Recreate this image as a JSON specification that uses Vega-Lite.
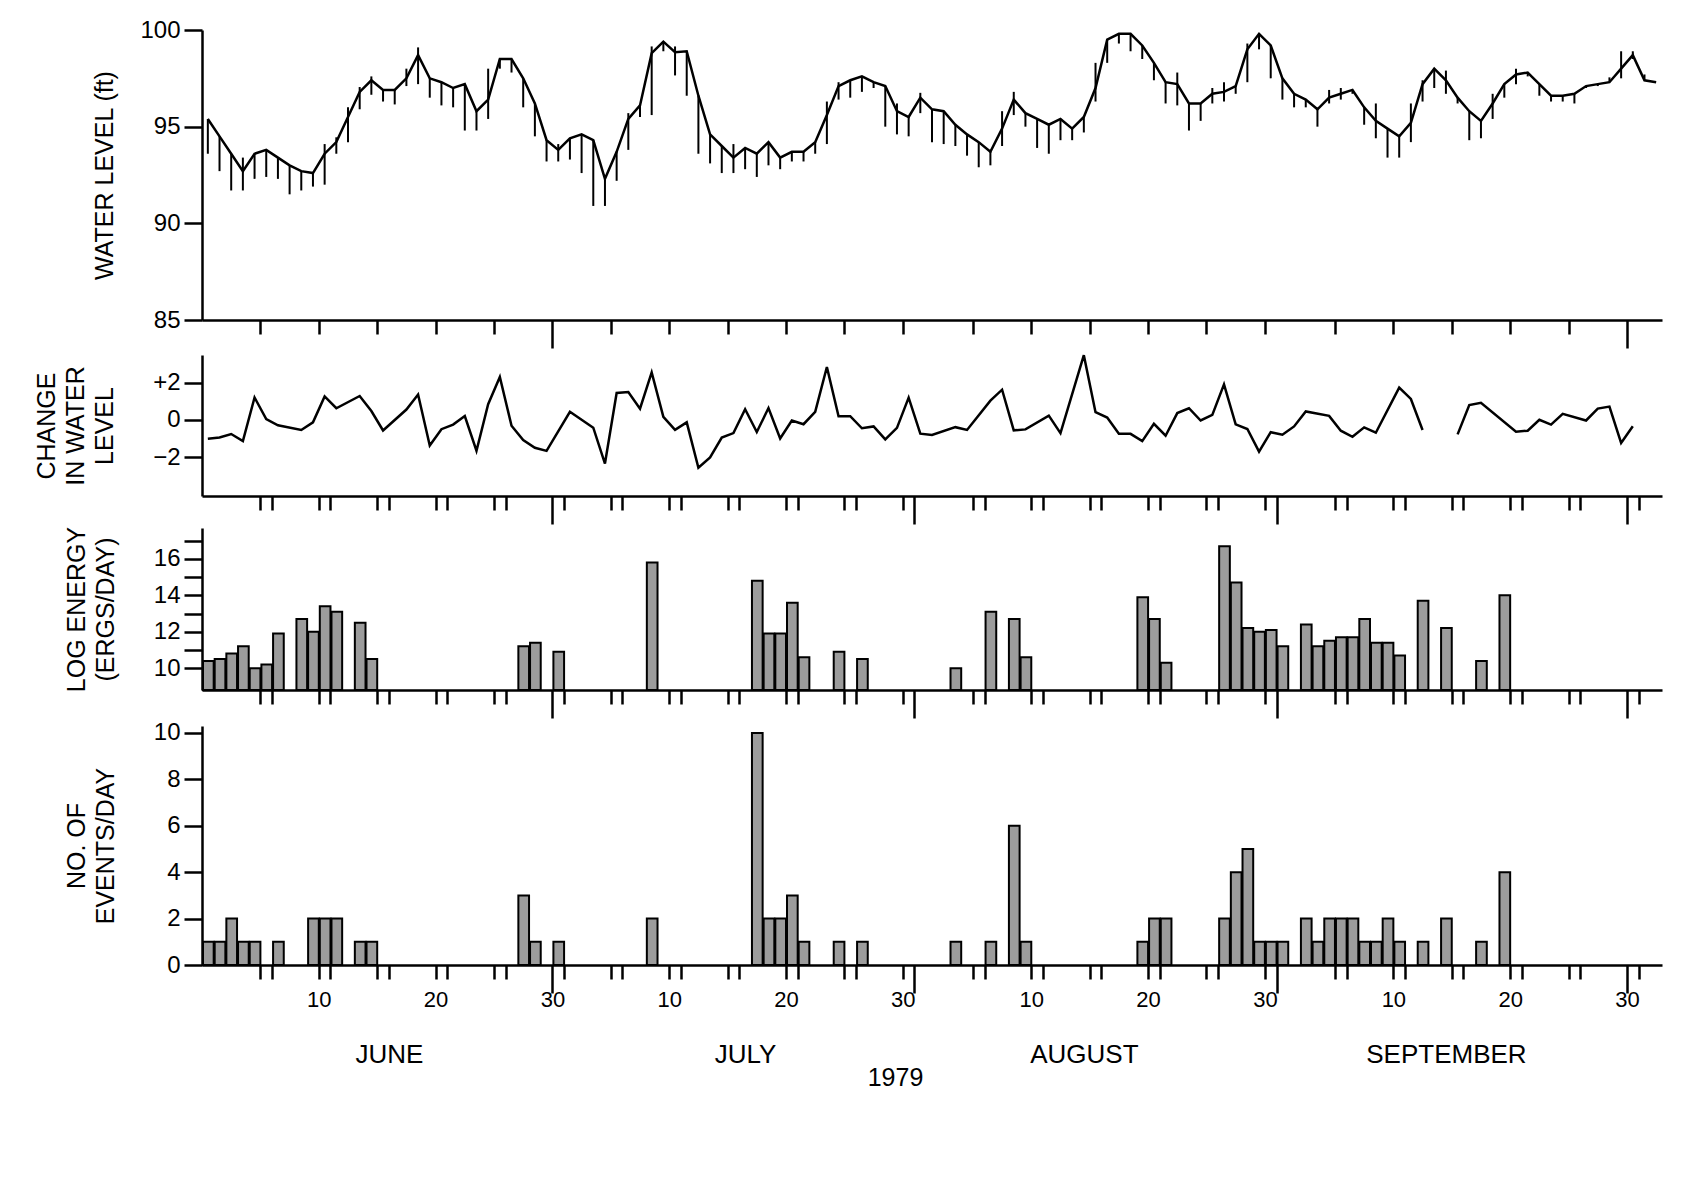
{
  "$schema": "https://vega.github.io/schema/vega-lite/v6.json",
  "background": "white",
  "padding": {"left": 34, "top": 18, "right": 10, "bottom": 10},
  "spacing": 0,
  "config": {
    "font": "Liberation Sans",
    "view": {"stroke": null},
    "axis": {
      "domainColor": "black", "domainWidth": 2.5, "tickColor": "black", "tickWidth": 2.5,
      "labelColor": "black", "titleColor": "black", "labelFont": "Liberation Sans", "titleFont": "Liberation Sans",
      "labelFontSize": 24, "titleFontSize": 25, "titleFontWeight": "normal", "grid": false, "titleLineHeight": 29
    },
    "axisY": {"tickSize": 18, "labelPadding": 4, "titlePadding": 35}
  },
  "datasets": {
    "water": [
      {"date": "1979-06-01", "level": 95.4, "hi": 95.4, "lo": 93.6},
      {"date": "1979-06-02", "level": 94.5, "hi": 94.5, "lo": 92.7},
      {"date": "1979-06-03", "level": 93.6, "hi": 93.6, "lo": 91.7},
      {"date": "1979-06-04", "level": 92.7, "hi": 93.4, "lo": 91.7},
      {"date": "1979-06-05", "level": 93.6, "hi": 93.6, "lo": 92.3},
      {"date": "1979-06-06", "level": 93.8, "hi": 93.8, "lo": 92.4},
      {"date": "1979-06-07", "level": 93.4, "hi": 93.4, "lo": 92.3},
      {"date": "1979-06-08", "level": 93.0, "hi": 93.0, "lo": 91.5},
      {"date": "1979-06-09", "level": 92.7, "hi": 92.7, "lo": 91.7},
      {"date": "1979-06-10", "level": 92.6, "hi": 92.6, "lo": 91.9},
      {"date": "1979-06-11", "level": 93.6, "hi": 94.1, "lo": 92.0},
      {"date": "1979-06-12", "level": 94.2, "hi": 94.45, "lo": 93.6},
      {"date": "1979-06-13", "level": 95.5, "hi": 96.0, "lo": 94.2},
      {"date": "1979-06-14", "level": 96.8, "hi": 97.05, "lo": 95.9},
      {"date": "1979-06-15", "level": 97.4, "hi": 97.6, "lo": 96.65},
      {"date": "1979-06-16", "level": 96.9, "hi": 96.9, "lo": 96.3},
      {"date": "1979-06-17", "level": 96.9, "hi": 96.9, "lo": 96.15},
      {"date": "1979-06-18", "level": 97.5, "hi": 98.0, "lo": 97.1},
      {"date": "1979-06-19", "level": 98.7, "hi": 99.1, "lo": 97.2},
      {"date": "1979-06-20", "level": 97.5, "hi": 97.5, "lo": 96.5},
      {"date": "1979-06-21", "level": 97.3, "hi": 97.3, "lo": 96.1},
      {"date": "1979-06-22", "level": 97.0, "hi": 97.0, "lo": 96.0},
      {"date": "1979-06-23", "level": 97.2, "hi": 97.2, "lo": 94.8},
      {"date": "1979-06-24", "level": 95.8, "hi": 95.8, "lo": 94.8},
      {"date": "1979-06-25", "level": 96.4, "hi": 98.0, "lo": 95.4},
      {"date": "1979-06-26", "level": 98.5, "hi": 98.5, "lo": 98.0},
      {"date": "1979-06-27", "level": 98.5, "hi": 98.5, "lo": 97.8},
      {"date": "1979-06-28", "level": 97.5, "hi": 97.5, "lo": 96.0},
      {"date": "1979-06-29", "level": 96.2, "hi": 96.2, "lo": 94.5},
      {"date": "1979-06-30", "level": 94.3, "hi": 94.3, "lo": 93.2},
      {"date": "1979-07-01", "level": 93.8, "hi": 94.1, "lo": 93.2},
      {"date": "1979-07-02", "level": 94.4, "hi": 94.4, "lo": 93.3},
      {"date": "1979-07-03", "level": 94.6, "hi": 94.6, "lo": 92.6},
      {"date": "1979-07-04", "level": 94.3, "hi": 94.3, "lo": 90.9},
      {"date": "1979-07-05", "level": 92.3, "hi": 92.3, "lo": 90.9},
      {"date": "1979-07-06", "level": 93.7, "hi": 93.7, "lo": 92.2},
      {"date": "1979-07-07", "level": 95.4, "hi": 95.7, "lo": 93.8},
      {"date": "1979-07-08", "level": 96.1, "hi": 96.1, "lo": 95.5},
      {"date": "1979-07-09", "level": 98.8, "hi": 99.15, "lo": 95.6},
      {"date": "1979-07-10", "level": 99.4, "hi": 99.4, "lo": 98.9},
      {"date": "1979-07-11", "level": 98.85, "hi": 99.15, "lo": 97.65},
      {"date": "1979-07-12", "level": 98.9, "hi": 98.9, "lo": 96.6},
      {"date": "1979-07-13", "level": 96.6, "hi": 96.6, "lo": 93.6},
      {"date": "1979-07-14", "level": 94.6, "hi": 94.6, "lo": 93.1},
      {"date": "1979-07-15", "level": 94.0, "hi": 94.0, "lo": 92.6},
      {"date": "1979-07-16", "level": 93.4, "hi": 94.1, "lo": 92.6},
      {"date": "1979-07-17", "level": 93.9, "hi": 93.9, "lo": 92.8},
      {"date": "1979-07-18", "level": 93.6, "hi": 93.6, "lo": 92.4},
      {"date": "1979-07-19", "level": 94.2, "hi": 94.2, "lo": 93.0},
      {"date": "1979-07-20", "level": 93.4, "hi": 93.4, "lo": 92.8},
      {"date": "1979-07-21", "level": 93.7, "hi": 93.7, "lo": 93.2},
      {"date": "1979-07-22", "level": 93.7, "hi": 93.7, "lo": 93.2},
      {"date": "1979-07-23", "level": 94.2, "hi": 94.2, "lo": 93.6},
      {"date": "1979-07-24", "level": 95.6, "hi": 96.3, "lo": 94.1},
      {"date": "1979-07-25", "level": 97.1, "hi": 97.3, "lo": 96.4},
      {"date": "1979-07-26", "level": 97.4, "hi": 97.4, "lo": 96.5},
      {"date": "1979-07-27", "level": 97.6, "hi": 97.6, "lo": 96.8},
      {"date": "1979-07-28", "level": 97.3, "hi": 97.3, "lo": 97.0},
      {"date": "1979-07-29", "level": 97.1, "hi": 97.1, "lo": 95.0},
      {"date": "1979-07-30", "level": 95.8, "hi": 96.2, "lo": 94.6},
      {"date": "1979-07-31", "level": 95.5, "hi": 95.5, "lo": 94.5},
      {"date": "1979-08-01", "level": 96.5, "hi": 96.75, "lo": 95.7},
      {"date": "1979-08-02", "level": 95.9, "hi": 95.9, "lo": 94.2},
      {"date": "1979-08-03", "level": 95.8, "hi": 95.8, "lo": 94.1},
      {"date": "1979-08-04", "level": 95.1, "hi": 95.1, "lo": 94.0},
      {"date": "1979-08-05", "level": 94.6, "hi": 94.6, "lo": 93.5},
      {"date": "1979-08-06", "level": 94.2, "hi": 94.2, "lo": 92.9},
      {"date": "1979-08-07", "level": 93.7, "hi": 93.7, "lo": 93.0},
      {"date": "1979-08-08", "level": 94.9, "hi": 95.8, "lo": 94.0},
      {"date": "1979-08-09", "level": 96.4, "hi": 96.8, "lo": 95.6},
      {"date": "1979-08-10", "level": 95.7, "hi": 95.7, "lo": 95.0},
      {"date": "1979-08-11", "level": 95.4, "hi": 95.4, "lo": 93.9},
      {"date": "1979-08-12", "level": 95.1, "hi": 95.1, "lo": 93.6},
      {"date": "1979-08-13", "level": 95.4, "hi": 95.4, "lo": 94.3},
      {"date": "1979-08-14", "level": 94.9, "hi": 94.9, "lo": 94.3},
      {"date": "1979-08-15", "level": 95.5, "hi": 95.5, "lo": 94.7},
      {"date": "1979-08-16", "level": 97.0, "hi": 98.3, "lo": 96.3},
      {"date": "1979-08-17", "level": 99.5, "hi": 99.5, "lo": 98.3},
      {"date": "1979-08-18", "level": 99.8, "hi": 99.8, "lo": 99.3},
      {"date": "1979-08-19", "level": 99.8, "hi": 99.8, "lo": 98.9},
      {"date": "1979-08-20", "level": 99.2, "hi": 99.2, "lo": 98.5},
      {"date": "1979-08-21", "level": 98.3, "hi": 98.3, "lo": 97.4},
      {"date": "1979-08-22", "level": 97.3, "hi": 97.3, "lo": 96.2},
      {"date": "1979-08-23", "level": 97.2, "hi": 97.8, "lo": 96.1},
      {"date": "1979-08-24", "level": 96.2, "hi": 96.2, "lo": 94.8},
      {"date": "1979-08-25", "level": 96.2, "hi": 96.2, "lo": 95.3},
      {"date": "1979-08-26", "level": 96.7, "hi": 97.0, "lo": 96.2},
      {"date": "1979-08-27", "level": 96.8, "hi": 97.3, "lo": 96.3},
      {"date": "1979-08-28", "level": 97.1, "hi": 97.1, "lo": 96.7},
      {"date": "1979-08-29", "level": 99.0, "hi": 99.3, "lo": 97.3},
      {"date": "1979-08-30", "level": 99.8, "hi": 99.8, "lo": 99.0},
      {"date": "1979-08-31", "level": 99.2, "hi": 99.2, "lo": 97.5},
      {"date": "1979-09-01", "level": 97.5, "hi": 97.5, "lo": 96.4},
      {"date": "1979-09-02", "level": 96.7, "hi": 96.7, "lo": 96.0},
      {"date": "1979-09-03", "level": 96.4, "hi": 96.4, "lo": 96.0},
      {"date": "1979-09-04", "level": 95.9, "hi": 95.9, "lo": 95.0},
      {"date": "1979-09-05", "level": 96.5, "hi": 96.9, "lo": 96.2},
      {"date": "1979-09-06", "level": 96.7, "hi": 97.0, "lo": 96.4},
      {"date": "1979-09-07", "level": 96.9, "hi": 96.9, "lo": 96.7},
      {"date": "1979-09-08", "level": 96.0, "hi": 96.0, "lo": 95.1},
      {"date": "1979-09-09", "level": 95.3, "hi": 96.2, "lo": 94.4},
      {"date": "1979-09-10", "level": 94.9, "hi": 94.9, "lo": 93.4},
      {"date": "1979-09-11", "level": 94.5, "hi": 94.5, "lo": 93.4},
      {"date": "1979-09-12", "level": 95.2, "hi": 96.2, "lo": 94.2},
      {"date": "1979-09-13", "level": 97.2, "hi": 97.4, "lo": 96.3},
      {"date": "1979-09-14", "level": 98.0, "hi": 98.0, "lo": 97.0},
      {"date": "1979-09-15", "level": 97.4, "hi": 97.9, "lo": 96.7},
      {"date": "1979-09-16", "level": 96.5, "hi": 96.5, "lo": 96.2},
      {"date": "1979-09-17", "level": 95.8, "hi": 95.8, "lo": 94.3},
      {"date": "1979-09-18", "level": 95.3, "hi": 95.3, "lo": 94.4},
      {"date": "1979-09-19", "level": 96.2, "hi": 96.7, "lo": 95.4},
      {"date": "1979-09-20", "level": 97.2, "hi": 97.2, "lo": 96.5},
      {"date": "1979-09-21", "level": 97.7, "hi": 98.0, "lo": 97.2},
      {"date": "1979-09-22", "level": 97.8, "hi": 97.8, "lo": 97.6},
      {"date": "1979-09-23", "level": 97.2, "hi": 97.2, "lo": 96.6},
      {"date": "1979-09-24", "level": 96.6, "hi": 96.6, "lo": 96.3},
      {"date": "1979-09-25", "level": 96.6, "hi": 96.6, "lo": 96.3},
      {"date": "1979-09-26", "level": 96.7, "hi": 96.7, "lo": 96.2},
      {"date": "1979-09-27", "level": 97.1, "hi": 97.1, "lo": 97.0},
      {"date": "1979-09-28", "level": 97.2, "hi": 97.2, "lo": 97.1},
      {"date": "1979-09-29", "level": 97.3, "hi": 97.55, "lo": 97.3},
      {"date": "1979-09-30", "level": 98.0, "hi": 98.9, "lo": 97.5},
      {"date": "1979-10-01", "level": 98.7, "hi": 98.9, "lo": 98.5},
      {"date": "1979-10-02", "level": 97.4, "hi": 97.7, "lo": 97.4},
      {"date": "1979-10-03", "level": 97.3, "hi": 97.3, "lo": 97.3}
    ],
    "change": [
      {"date": "1979-06-01", "change": -1.01, "part": 1},
      {"date": "1979-06-02", "change": -0.95, "part": 1},
      {"date": "1979-06-03", "change": -0.76, "part": 1},
      {"date": "1979-06-04", "change": -1.14, "part": 1},
      {"date": "1979-06-05", "change": 1.21, "part": 1},
      {"date": "1979-06-06", "change": 0.05, "part": 1},
      {"date": "1979-06-07", "change": -0.29, "part": 1},
      {"date": "1979-06-09", "change": -0.54, "part": 1},
      {"date": "1979-06-10", "change": -0.13, "part": 1},
      {"date": "1979-06-11", "change": 1.27, "part": 1},
      {"date": "1979-06-12", "change": 0.63, "part": 1},
      {"date": "1979-06-14", "change": 1.29, "part": 1},
      {"date": "1979-06-15", "change": 0.48, "part": 1},
      {"date": "1979-06-16", "change": -0.57, "part": 1},
      {"date": "1979-06-18", "change": 0.56, "part": 1},
      {"date": "1979-06-19", "change": 1.37, "part": 1},
      {"date": "1979-06-20", "change": -1.38, "part": 1},
      {"date": "1979-06-21", "change": -0.5, "part": 1},
      {"date": "1979-06-22", "change": -0.25, "part": 1},
      {"date": "1979-06-23", "change": 0.21, "part": 1},
      {"date": "1979-06-24", "change": -1.66, "part": 1},
      {"date": "1979-06-25", "change": 0.85, "part": 1},
      {"date": "1979-06-26", "change": 2.32, "part": 1},
      {"date": "1979-06-27", "change": -0.31, "part": 1},
      {"date": "1979-06-28", "change": -1.08, "part": 1},
      {"date": "1979-06-29", "change": -1.5, "part": 1},
      {"date": "1979-06-30", "change": -1.67, "part": 1},
      {"date": "1979-07-02", "change": 0.44, "part": 1},
      {"date": "1979-07-04", "change": -0.42, "part": 1},
      {"date": "1979-07-05", "change": -2.35, "part": 1},
      {"date": "1979-07-06", "change": 1.45, "part": 1},
      {"date": "1979-07-07", "change": 1.5, "part": 1},
      {"date": "1979-07-08", "change": 0.61, "part": 1},
      {"date": "1979-07-09", "change": 2.56, "part": 1},
      {"date": "1979-07-10", "change": 0.17, "part": 1},
      {"date": "1979-07-11", "change": -0.53, "part": 1},
      {"date": "1979-07-12", "change": -0.13, "part": 1},
      {"date": "1979-07-13", "change": -2.58, "part": 1},
      {"date": "1979-07-14", "change": -2.02, "part": 1},
      {"date": "1979-07-15", "change": -0.95, "part": 1},
      {"date": "1979-07-16", "change": -0.71, "part": 1},
      {"date": "1979-07-17", "change": 0.58, "part": 1},
      {"date": "1979-07-18", "change": -0.65, "part": 1},
      {"date": "1979-07-19", "change": 0.64, "part": 1},
      {"date": "1979-07-20", "change": -1.0, "part": 1},
      {"date": "1979-07-21", "change": -0.03, "part": 1},
      {"date": "1979-07-22", "change": -0.23, "part": 1},
      {"date": "1979-07-23", "change": 0.44, "part": 1},
      {"date": "1979-07-24", "change": 2.85, "part": 1},
      {"date": "1979-07-25", "change": 0.2, "part": 1},
      {"date": "1979-07-26", "change": 0.2, "part": 1},
      {"date": "1979-07-27", "change": -0.45, "part": 1},
      {"date": "1979-07-28", "change": -0.35, "part": 1},
      {"date": "1979-07-29", "change": -1.05, "part": 1},
      {"date": "1979-07-30", "change": -0.43, "part": 1},
      {"date": "1979-07-31", "change": 1.2, "part": 1},
      {"date": "1979-08-01", "change": -0.74, "part": 1},
      {"date": "1979-08-02", "change": -0.81, "part": 1},
      {"date": "1979-08-04", "change": -0.39, "part": 1},
      {"date": "1979-08-05", "change": -0.54, "part": 1},
      {"date": "1979-08-07", "change": 1.04, "part": 1},
      {"date": "1979-08-08", "change": 1.63, "part": 1},
      {"date": "1979-08-09", "change": -0.56, "part": 1},
      {"date": "1979-08-10", "change": -0.51, "part": 1},
      {"date": "1979-08-12", "change": 0.23, "part": 1},
      {"date": "1979-08-13", "change": -0.71, "part": 1},
      {"date": "1979-08-15", "change": 3.49, "part": 1},
      {"date": "1979-08-16", "change": 0.42, "part": 1},
      {"date": "1979-08-17", "change": 0.13, "part": 1},
      {"date": "1979-08-18", "change": -0.74, "part": 1},
      {"date": "1979-08-19", "change": -0.75, "part": 1},
      {"date": "1979-08-20", "change": -1.14, "part": 1},
      {"date": "1979-08-21", "change": -0.21, "part": 1},
      {"date": "1979-08-22", "change": -0.85, "part": 1},
      {"date": "1979-08-23", "change": 0.37, "part": 1},
      {"date": "1979-08-24", "change": 0.63, "part": 1},
      {"date": "1979-08-25", "change": -0.03, "part": 1},
      {"date": "1979-08-26", "change": 0.27, "part": 1},
      {"date": "1979-08-27", "change": 1.92, "part": 1},
      {"date": "1979-08-28", "change": -0.24, "part": 1},
      {"date": "1979-08-29", "change": -0.49, "part": 1},
      {"date": "1979-08-30", "change": -1.71, "part": 1},
      {"date": "1979-08-31", "change": -0.66, "part": 1},
      {"date": "1979-09-01", "change": -0.8, "part": 1},
      {"date": "1979-09-02", "change": -0.35, "part": 1},
      {"date": "1979-09-03", "change": 0.46, "part": 1},
      {"date": "1979-09-05", "change": 0.22, "part": 1},
      {"date": "1979-09-06", "change": -0.58, "part": 1},
      {"date": "1979-09-07", "change": -0.91, "part": 1},
      {"date": "1979-09-08", "change": -0.4, "part": 1},
      {"date": "1979-09-09", "change": -0.69, "part": 1},
      {"date": "1979-09-11", "change": 1.74, "part": 1},
      {"date": "1979-09-12", "change": 1.13, "part": 1},
      {"date": "1979-09-13", "change": -0.54, "part": 1},
      {"date": "1979-09-16", "change": -0.78, "part": 2},
      {"date": "1979-09-17", "change": 0.8, "part": 2},
      {"date": "1979-09-18", "change": 0.92, "part": 2},
      {"date": "1979-09-21", "change": -0.64, "part": 2},
      {"date": "1979-09-22", "change": -0.58, "part": 2},
      {"date": "1979-09-23", "change": 0.01, "part": 2},
      {"date": "1979-09-24", "change": -0.25, "part": 2},
      {"date": "1979-09-25", "change": 0.33, "part": 2},
      {"date": "1979-09-27", "change": -0.03, "part": 2},
      {"date": "1979-09-28", "change": 0.61, "part": 2},
      {"date": "1979-09-29", "change": 0.72, "part": 2},
      {"date": "1979-09-30", "change": -1.24, "part": 2},
      {"date": "1979-10-01", "change": -0.34, "part": 2}
    ],
    "energy": [
      {"date": "1979-06-01", "energy": 10.4},
      {"date": "1979-06-02", "energy": 10.5},
      {"date": "1979-06-03", "energy": 10.8},
      {"date": "1979-06-04", "energy": 11.2},
      {"date": "1979-06-05", "energy": 10.0},
      {"date": "1979-06-06", "energy": 10.2},
      {"date": "1979-06-07", "energy": 11.9},
      {"date": "1979-06-09", "energy": 12.7},
      {"date": "1979-06-10", "energy": 12.0},
      {"date": "1979-06-11", "energy": 13.4},
      {"date": "1979-06-12", "energy": 13.1},
      {"date": "1979-06-14", "energy": 12.5},
      {"date": "1979-06-15", "energy": 10.5},
      {"date": "1979-06-28", "energy": 11.2},
      {"date": "1979-06-29", "energy": 11.4},
      {"date": "1979-07-01", "energy": 10.9},
      {"date": "1979-07-09", "energy": 15.8},
      {"date": "1979-07-18", "energy": 14.8},
      {"date": "1979-07-19", "energy": 11.9},
      {"date": "1979-07-20", "energy": 11.9},
      {"date": "1979-07-21", "energy": 13.6},
      {"date": "1979-07-22", "energy": 10.6},
      {"date": "1979-07-25", "energy": 10.9},
      {"date": "1979-07-27", "energy": 10.5},
      {"date": "1979-08-04", "energy": 10.0},
      {"date": "1979-08-07", "energy": 13.1},
      {"date": "1979-08-09", "energy": 12.7},
      {"date": "1979-08-10", "energy": 10.6},
      {"date": "1979-08-20", "energy": 13.9},
      {"date": "1979-08-21", "energy": 12.7},
      {"date": "1979-08-22", "energy": 10.3},
      {"date": "1979-08-27", "energy": 16.7},
      {"date": "1979-08-28", "energy": 14.7},
      {"date": "1979-08-29", "energy": 12.2},
      {"date": "1979-08-30", "energy": 12.0},
      {"date": "1979-08-31", "energy": 12.1},
      {"date": "1979-09-01", "energy": 11.2},
      {"date": "1979-09-03", "energy": 12.4},
      {"date": "1979-09-04", "energy": 11.2},
      {"date": "1979-09-05", "energy": 11.5},
      {"date": "1979-09-06", "energy": 11.7},
      {"date": "1979-09-07", "energy": 11.7},
      {"date": "1979-09-08", "energy": 12.7},
      {"date": "1979-09-09", "energy": 11.4},
      {"date": "1979-09-10", "energy": 11.4},
      {"date": "1979-09-11", "energy": 10.7},
      {"date": "1979-09-13", "energy": 13.7},
      {"date": "1979-09-15", "energy": 12.2},
      {"date": "1979-09-18", "energy": 10.4},
      {"date": "1979-09-20", "energy": 14.0}
    ],
    "events": [
      {"date": "1979-06-01", "count": 1},
      {"date": "1979-06-02", "count": 1},
      {"date": "1979-06-03", "count": 2},
      {"date": "1979-06-04", "count": 1},
      {"date": "1979-06-05", "count": 1},
      {"date": "1979-06-07", "count": 1},
      {"date": "1979-06-10", "count": 2},
      {"date": "1979-06-11", "count": 2},
      {"date": "1979-06-12", "count": 2},
      {"date": "1979-06-14", "count": 1},
      {"date": "1979-06-15", "count": 1},
      {"date": "1979-06-28", "count": 3},
      {"date": "1979-06-29", "count": 1},
      {"date": "1979-07-01", "count": 1},
      {"date": "1979-07-09", "count": 2},
      {"date": "1979-07-18", "count": 10},
      {"date": "1979-07-19", "count": 2},
      {"date": "1979-07-20", "count": 2},
      {"date": "1979-07-21", "count": 3},
      {"date": "1979-07-22", "count": 1},
      {"date": "1979-07-25", "count": 1},
      {"date": "1979-07-27", "count": 1},
      {"date": "1979-08-04", "count": 1},
      {"date": "1979-08-07", "count": 1},
      {"date": "1979-08-09", "count": 6},
      {"date": "1979-08-10", "count": 1},
      {"date": "1979-08-20", "count": 1},
      {"date": "1979-08-21", "count": 2},
      {"date": "1979-08-22", "count": 2},
      {"date": "1979-08-27", "count": 2},
      {"date": "1979-08-28", "count": 4},
      {"date": "1979-08-29", "count": 5},
      {"date": "1979-08-30", "count": 1},
      {"date": "1979-08-31", "count": 1},
      {"date": "1979-09-01", "count": 1},
      {"date": "1979-09-03", "count": 2},
      {"date": "1979-09-04", "count": 1},
      {"date": "1979-09-05", "count": 2},
      {"date": "1979-09-06", "count": 2},
      {"date": "1979-09-07", "count": 2},
      {"date": "1979-09-08", "count": 1},
      {"date": "1979-09-09", "count": 1},
      {"date": "1979-09-10", "count": 2},
      {"date": "1979-09-11", "count": 1},
      {"date": "1979-09-13", "count": 1},
      {"date": "1979-09-15", "count": 2},
      {"date": "1979-09-18", "count": 1},
      {"date": "1979-09-20", "count": 4}
    ]
  },
  "vconcat": [
    {
      "width": 1460, "height": 290,
      "data": {"name": "water"},
      "layer": [
        {
          "mark": {"type": "rule", "color": "black", "strokeWidth": 2},
          "encoding": {
            "x": {"field": "date", "type": "temporal", "timeUnit": "utcyearmonthdate", "bandPosition": 0.5,
              "scale": {"type": "utc", "domain": [{"year": 1979, "month": 6, "date": 1, "utc": true}, {"year": 1979, "month": 10, "date": 4, "utc": true}]},
              "axis": {"title": null, "labels": false,
                "tickSize": {"condition": {"test": "utcdate(datum.value) == 1", "value": 28}, "value": 14},
                "values": [
                  {"year":1979,"month":6,"date":6,"utc":true},{"year":1979,"month":6,"date":7,"utc":true},{"year":1979,"month":6,"date":11,"utc":true},{"year":1979,"month":6,"date":12,"utc":true},{"year":1979,"month":6,"date":16,"utc":true},{"year":1979,"month":6,"date":17,"utc":true},{"year":1979,"month":6,"date":21,"utc":true},{"year":1979,"month":6,"date":22,"utc":true},{"year":1979,"month":6,"date":26,"utc":true},{"year":1979,"month":6,"date":27,"utc":true},{"year":1979,"month":7,"date":1,"utc":true},{"year":1979,"month":7,"date":2,"utc":true},
                  {"year":1979,"month":7,"date":6,"utc":true},{"year":1979,"month":7,"date":7,"utc":true},{"year":1979,"month":7,"date":11,"utc":true},{"year":1979,"month":7,"date":12,"utc":true},{"year":1979,"month":7,"date":16,"utc":true},{"year":1979,"month":7,"date":17,"utc":true},{"year":1979,"month":7,"date":21,"utc":true},{"year":1979,"month":7,"date":22,"utc":true},{"year":1979,"month":7,"date":26,"utc":true},{"year":1979,"month":7,"date":27,"utc":true},{"year":1979,"month":7,"date":31,"utc":true},{"year":1979,"month":8,"date":1,"utc":true},
                  {"year":1979,"month":8,"date":6,"utc":true},{"year":1979,"month":8,"date":7,"utc":true},{"year":1979,"month":8,"date":11,"utc":true},{"year":1979,"month":8,"date":12,"utc":true},{"year":1979,"month":8,"date":16,"utc":true},{"year":1979,"month":8,"date":17,"utc":true},{"year":1979,"month":8,"date":21,"utc":true},{"year":1979,"month":8,"date":22,"utc":true},{"year":1979,"month":8,"date":26,"utc":true},{"year":1979,"month":8,"date":27,"utc":true},{"year":1979,"month":8,"date":31,"utc":true},{"year":1979,"month":9,"date":1,"utc":true},
                  {"year":1979,"month":9,"date":6,"utc":true},{"year":1979,"month":9,"date":7,"utc":true},{"year":1979,"month":9,"date":11,"utc":true},{"year":1979,"month":9,"date":12,"utc":true},{"year":1979,"month":9,"date":16,"utc":true},{"year":1979,"month":9,"date":17,"utc":true},{"year":1979,"month":9,"date":21,"utc":true},{"year":1979,"month":9,"date":22,"utc":true},{"year":1979,"month":9,"date":26,"utc":true},{"year":1979,"month":9,"date":27,"utc":true},{"year":1979,"month":10,"date":1,"utc":true},{"year":1979,"month":10,"date":2,"utc":true}
                ]}},
            "y": {"field": "lo", "type": "quantitative", "scale": {"domain": [85, 100], "nice": false, "zero": false},
              "axis": {"title": "WATER LEVEL (ft)", "values": [85, 90, 95, 100], "titlePadding": 22}},
            "y2": {"field": "hi"}
          }
        },
        {
          "mark": {"type": "line", "color": "black", "strokeWidth": 2.5},
          "encoding": {
            "x": {"field": "date", "type": "temporal", "timeUnit": "utcyearmonthdate", "bandPosition": 0.5,
              "scale": {"type": "utc", "domain": [{"year": 1979, "month": 6, "date": 1, "utc": true}, {"year": 1979, "month": 10, "date": 4, "utc": true}]}},
            "y": {"field": "level", "type": "quantitative", "scale": {"domain": [85, 100], "nice": false, "zero": false},
              "axis": {"title": "WATER LEVEL (ft)", "values": [85, 90, 95, 100], "titlePadding": 22}}
          }
        }
      ]
    },
    {
      "width": 1460, "height": 141,
      "data": {"name": "change"},
      "mark": {"type": "line", "color": "black", "strokeWidth": 2.5},
      "encoding": {
        "x": {"field": "date", "type": "temporal", "timeUnit": "utcyearmonthdate", "bandPosition": 0.5,
          "scale": {"type": "utc", "domain": [{"year": 1979, "month": 6, "date": 1, "utc": true}, {"year": 1979, "month": 10, "date": 4, "utc": true}]},
          "axis": {"title": null, "labels": false,
            "tickSize": {"condition": {"test": "utcdate(datum.value) == 1", "value": 28}, "value": 14},
            "values": [
              {"year":1979,"month":6,"date":6,"utc":true},{"year":1979,"month":6,"date":7,"utc":true},{"year":1979,"month":6,"date":11,"utc":true},{"year":1979,"month":6,"date":12,"utc":true},{"year":1979,"month":6,"date":16,"utc":true},{"year":1979,"month":6,"date":17,"utc":true},{"year":1979,"month":6,"date":21,"utc":true},{"year":1979,"month":6,"date":22,"utc":true},{"year":1979,"month":6,"date":26,"utc":true},{"year":1979,"month":6,"date":27,"utc":true},{"year":1979,"month":7,"date":1,"utc":true},{"year":1979,"month":7,"date":2,"utc":true},
              {"year":1979,"month":7,"date":6,"utc":true},{"year":1979,"month":7,"date":7,"utc":true},{"year":1979,"month":7,"date":11,"utc":true},{"year":1979,"month":7,"date":12,"utc":true},{"year":1979,"month":7,"date":16,"utc":true},{"year":1979,"month":7,"date":17,"utc":true},{"year":1979,"month":7,"date":21,"utc":true},{"year":1979,"month":7,"date":22,"utc":true},{"year":1979,"month":7,"date":26,"utc":true},{"year":1979,"month":7,"date":27,"utc":true},{"year":1979,"month":7,"date":31,"utc":true},{"year":1979,"month":8,"date":1,"utc":true},
              {"year":1979,"month":8,"date":6,"utc":true},{"year":1979,"month":8,"date":7,"utc":true},{"year":1979,"month":8,"date":11,"utc":true},{"year":1979,"month":8,"date":12,"utc":true},{"year":1979,"month":8,"date":16,"utc":true},{"year":1979,"month":8,"date":17,"utc":true},{"year":1979,"month":8,"date":21,"utc":true},{"year":1979,"month":8,"date":22,"utc":true},{"year":1979,"month":8,"date":26,"utc":true},{"year":1979,"month":8,"date":27,"utc":true},{"year":1979,"month":8,"date":31,"utc":true},{"year":1979,"month":9,"date":1,"utc":true},
              {"year":1979,"month":9,"date":6,"utc":true},{"year":1979,"month":9,"date":7,"utc":true},{"year":1979,"month":9,"date":11,"utc":true},{"year":1979,"month":9,"date":12,"utc":true},{"year":1979,"month":9,"date":16,"utc":true},{"year":1979,"month":9,"date":17,"utc":true},{"year":1979,"month":9,"date":21,"utc":true},{"year":1979,"month":9,"date":22,"utc":true},{"year":1979,"month":9,"date":26,"utc":true},{"year":1979,"month":9,"date":27,"utc":true},{"year":1979,"month":10,"date":1,"utc":true},{"year":1979,"month":10,"date":2,"utc":true}
            ]}},
        "y": {"field": "change", "type": "quantitative", "scale": {"domain": [-4.1, 3.5], "nice": false, "zero": false},
          "axis": {"title": ["CHANGE", "IN WATER", "LEVEL"], "values": [-2, 0, 2], "labelExpr": "datum.value > 0 ? '+' + datum.label : datum.label"}},
        "detail": {"field": "part", "type": "nominal"}
      }
    },
    {
      "width": 1460, "height": 162,
      "data": {"name": "energy"},
      "mark": {"type": "bar", "fill": "#9c9c9c", "stroke": "black", "strokeWidth": 2},
      "encoding": {
        "x": {"field": "date", "type": "temporal", "timeUnit": "utcyearmonthdate",
          "scale": {"type": "utc", "domain": [{"year": 1979, "month": 6, "date": 1, "utc": true}, {"year": 1979, "month": 10, "date": 4, "utc": true}]},
          "axis": {"title": null, "labels": false,
            "tickSize": {"condition": {"test": "utcdate(datum.value) == 1", "value": 28}, "value": 14},
            "values": [
              {"year":1979,"month":6,"date":6,"utc":true},{"year":1979,"month":6,"date":7,"utc":true},{"year":1979,"month":6,"date":11,"utc":true},{"year":1979,"month":6,"date":12,"utc":true},{"year":1979,"month":6,"date":16,"utc":true},{"year":1979,"month":6,"date":17,"utc":true},{"year":1979,"month":6,"date":21,"utc":true},{"year":1979,"month":6,"date":22,"utc":true},{"year":1979,"month":6,"date":26,"utc":true},{"year":1979,"month":6,"date":27,"utc":true},{"year":1979,"month":7,"date":1,"utc":true},{"year":1979,"month":7,"date":2,"utc":true},
              {"year":1979,"month":7,"date":6,"utc":true},{"year":1979,"month":7,"date":7,"utc":true},{"year":1979,"month":7,"date":11,"utc":true},{"year":1979,"month":7,"date":12,"utc":true},{"year":1979,"month":7,"date":16,"utc":true},{"year":1979,"month":7,"date":17,"utc":true},{"year":1979,"month":7,"date":21,"utc":true},{"year":1979,"month":7,"date":22,"utc":true},{"year":1979,"month":7,"date":26,"utc":true},{"year":1979,"month":7,"date":27,"utc":true},{"year":1979,"month":7,"date":31,"utc":true},{"year":1979,"month":8,"date":1,"utc":true},
              {"year":1979,"month":8,"date":6,"utc":true},{"year":1979,"month":8,"date":7,"utc":true},{"year":1979,"month":8,"date":11,"utc":true},{"year":1979,"month":8,"date":12,"utc":true},{"year":1979,"month":8,"date":16,"utc":true},{"year":1979,"month":8,"date":17,"utc":true},{"year":1979,"month":8,"date":21,"utc":true},{"year":1979,"month":8,"date":22,"utc":true},{"year":1979,"month":8,"date":26,"utc":true},{"year":1979,"month":8,"date":27,"utc":true},{"year":1979,"month":8,"date":31,"utc":true},{"year":1979,"month":9,"date":1,"utc":true},
              {"year":1979,"month":9,"date":6,"utc":true},{"year":1979,"month":9,"date":7,"utc":true},{"year":1979,"month":9,"date":11,"utc":true},{"year":1979,"month":9,"date":12,"utc":true},{"year":1979,"month":9,"date":16,"utc":true},{"year":1979,"month":9,"date":17,"utc":true},{"year":1979,"month":9,"date":21,"utc":true},{"year":1979,"month":9,"date":22,"utc":true},{"year":1979,"month":9,"date":26,"utc":true},{"year":1979,"month":9,"date":27,"utc":true},{"year":1979,"month":10,"date":1,"utc":true},{"year":1979,"month":10,"date":2,"utc":true}
            ]}},
        "y": {"field": "energy", "type": "quantitative", "scale": {"domain": [8.8, 17.7], "nice": false, "zero": false},
          "axis": {"title": ["LOG ENERGY", "(ERGS/DAY)"], "values": [10, 11, 12, 13, 14, 15, 16, 17], "labelExpr": "datum.value % 2 == 0 ? datum.label : ''"}},
        "y2": {"datum": 8.8}
      }
    },
    {
      "width": 1460, "height": 239,
      "data": {"name": "events"},
      "layer": [
        {
          "mark": {"type": "bar", "fill": "#9c9c9c", "stroke": "black", "strokeWidth": 2},
          "encoding": {
            "x": {"field": "date", "type": "temporal", "timeUnit": "utcyearmonthdate",
              "scale": {"type": "utc", "domain": [{"year": 1979, "month": 6, "date": 1, "utc": true}, {"year": 1979, "month": 10, "date": 4, "utc": true}]},
              "axis": {"title": null, "orient": "bottom", "labelOverlap": false, "labelFlush": false, "labelFontSize": 22,
                "labelPadding": {"condition": {"test": "utcdate(datum.value) == 1", "value": -4}, "value": 10},
                "labelExpr": "utcdate(datum.value - 86400000) % 10 == 0 ? '' + utcdate(datum.value - 86400000) : ''",
                "tickSize": {"condition": {"test": "utcdate(datum.value) == 1", "value": 28}, "value": 14},
                "values": [
                  {"year":1979,"month":6,"date":6,"utc":true},{"year":1979,"month":6,"date":7,"utc":true},{"year":1979,"month":6,"date":11,"utc":true},{"year":1979,"month":6,"date":12,"utc":true},{"year":1979,"month":6,"date":16,"utc":true},{"year":1979,"month":6,"date":17,"utc":true},{"year":1979,"month":6,"date":21,"utc":true},{"year":1979,"month":6,"date":22,"utc":true},{"year":1979,"month":6,"date":26,"utc":true},{"year":1979,"month":6,"date":27,"utc":true},{"year":1979,"month":7,"date":1,"utc":true},{"year":1979,"month":7,"date":2,"utc":true},
                  {"year":1979,"month":7,"date":6,"utc":true},{"year":1979,"month":7,"date":7,"utc":true},{"year":1979,"month":7,"date":11,"utc":true},{"year":1979,"month":7,"date":12,"utc":true},{"year":1979,"month":7,"date":16,"utc":true},{"year":1979,"month":7,"date":17,"utc":true},{"year":1979,"month":7,"date":21,"utc":true},{"year":1979,"month":7,"date":22,"utc":true},{"year":1979,"month":7,"date":26,"utc":true},{"year":1979,"month":7,"date":27,"utc":true},{"year":1979,"month":7,"date":31,"utc":true},{"year":1979,"month":8,"date":1,"utc":true},
                  {"year":1979,"month":8,"date":6,"utc":true},{"year":1979,"month":8,"date":7,"utc":true},{"year":1979,"month":8,"date":11,"utc":true},{"year":1979,"month":8,"date":12,"utc":true},{"year":1979,"month":8,"date":16,"utc":true},{"year":1979,"month":8,"date":17,"utc":true},{"year":1979,"month":8,"date":21,"utc":true},{"year":1979,"month":8,"date":22,"utc":true},{"year":1979,"month":8,"date":26,"utc":true},{"year":1979,"month":8,"date":27,"utc":true},{"year":1979,"month":8,"date":31,"utc":true},{"year":1979,"month":9,"date":1,"utc":true},
                  {"year":1979,"month":9,"date":6,"utc":true},{"year":1979,"month":9,"date":7,"utc":true},{"year":1979,"month":9,"date":11,"utc":true},{"year":1979,"month":9,"date":12,"utc":true},{"year":1979,"month":9,"date":16,"utc":true},{"year":1979,"month":9,"date":17,"utc":true},{"year":1979,"month":9,"date":21,"utc":true},{"year":1979,"month":9,"date":22,"utc":true},{"year":1979,"month":9,"date":26,"utc":true},{"year":1979,"month":9,"date":27,"utc":true},{"year":1979,"month":10,"date":1,"utc":true},{"year":1979,"month":10,"date":2,"utc":true}
                ]}},
            "y": {"field": "count", "type": "quantitative", "scale": {"domain": [0, 10.3], "nice": false},
              "axis": {"title": ["NO. OF", "EVENTS/DAY"], "values": [0, 2, 4, 6, 8, 10]}}
          }
        },
        {
          "mark": {"type": "rule", "opacity": 0},
          "encoding": {
            "x": {"field": "date", "type": "temporal", "timeUnit": "utcyearmonthdate",
              "scale": {"type": "utc", "domain": [{"year": 1979, "month": 6, "date": 1, "utc": true}, {"year": 1979, "month": 10, "date": 4, "utc": true}]},
              "axis": {"orient": "bottom", "title": "1979", "titleFontSize": 25, "titlePadding": -2, "titleX": 693, "titleAlign": "center",
                "offset": 76, "domain": false, "ticks": false,
                "labelPadding": 0, "labelFontSize": 26, "labelOverlap": false, "labelFlush": false,
                "values": [
                  {"year": 1979, "month": 6, "date": 17, "utc": true},
                  {"year": 1979, "month": 7, "date": 17, "hours": 12, "utc": true},
                  {"year": 1979, "month": 8, "date": 15, "hours": 12, "utc": true},
                  {"year": 1979, "month": 9, "date": 15, "hours": 12, "utc": true}
                ],
                "labelExpr": "utcmonth(datum.value) == 5 ? 'JUNE' : utcmonth(datum.value) == 6 ? 'JULY' : utcmonth(datum.value) == 7 ? 'AUGUST' : 'SEPTEMBER'"}}
          }
        }
      ],
      "resolve": {"axis": {"x": "independent"}}
    }
  ]
}
